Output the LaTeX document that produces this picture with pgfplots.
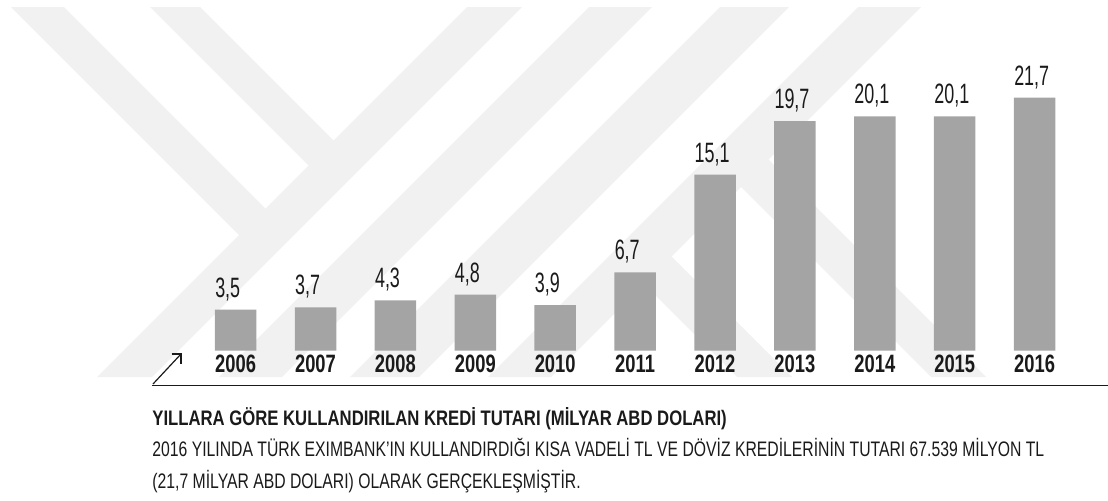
\documentclass[border=0pt]{standalone}
\usepackage{fontspec}
\usepackage{pgfplots}
\usepackage{pgfplotstable}
\pgfplotsset{compat=1.18}
\setmainfont{Liberation Sans}
\newfontfamily\valfont[FakeStretch=0.64]{Liberation Sans}
\newfontfamily\yearfont[FakeStretch=0.73]{Liberation Sans}
\newfontfamily\titlefont[FakeStretch=0.795]{Liberation Sans}
\newfontfamily\bodyfont[FakeStretch=0.75]{Liberation Sans}
\definecolor{barfill}{RGB}{164,164,164}
\definecolor{wm}{RGB}{241,241,241}
\definecolor{txt}{RGB}{26,26,26}

\pgfplotstableread{
x y lab
0 3.5 3,5
1 3.7 3,7
2 4.3 4,3
3 4.8 4,8
4 3.9 3,9
5 6.7 6,7
6 15.1 15,1
7 19.7 19,7
8 20.1 20,1
9 20.1 20,1
10 21.7 21,7
}\credit

\begin{document}
\begin{tikzpicture}
\useasboundingbox (0pt,0pt) rectangle (554pt,250pt);
\begin{scope}[x=0.5pt,y=0.5pt]
% faint background watermark
\clip (0,123) rectangle (1108,493);
\fill[wm] (11,493)--(64,493)--(271,286)--(244.5,259.5)--cycle;
\fill[wm] (150,493)--(200,493)--(339,354)--(314,329)--cycle;
\fill[wm] (467,493)--(522,493)--(152,123)--(97,123)--cycle;
\fill[wm] (589,493)--(652,493)--(282,123)--(219,123)--cycle;
\fill[wm] (720,493)--(789,493)--(419,123)--(350,123)--cycle;
\fill[wm] (858,493)--(921,493)--(551,123)--(488,123)--cycle;
\fill[wm] (739.5,369.5)--(986,123)--(931,123)--(712,342)--cycle;
\fill[wm] (642.5,272.5)--(792,123)--(737,123)--(615,245)--cycle;
\end{scope}
\begin{axis}[
  at={(75pt,74.75pt)}, anchor=south west,
  scale only axis, width=479pt, height=175.25pt,
  xmin=-1.0713, xmax=10.9186, ymin=0, ymax=30.086,
  axis line style={draw=none}, tick style={draw=none},
  ytick=\empty,
  xtick={0,...,10},
  xticklabels={2006,2007,2008,2009,2010,2011,2012,2013,2014,2015,2016},
  xticklabel style={font=\yearfont\bfseries\fontsize{12.57pt}{12.57pt}\selectfont, text=txt, anchor=base, inner sep=0pt, yshift=-6.75pt},
  clip=false,
  ybar, bar width=20.75pt,
  nodes near coords, point meta=explicit symbolic,
  every node near coord/.append style={font=\valfont\fontsize{14pt}{14pt}\selectfont, text=txt, anchor=base west, inner sep=0pt, xshift=-10.375pt, yshift=6.25pt},
]
\addplot[fill=barfill, draw=none, bar shift=0pt] table[x=x, y=y, meta=lab] {\credit};
\end{axis}
\begin{scope}[x=0.5pt,y=0.5pt]
\draw[txt, line width=0.9pt] (152,114.5) -- (1108,114.5);
\draw[txt, line width=0.6pt] (153,116) -- (181,146);
\draw[txt, line width=0.6pt] (171.5,146) -- (181,146) -- (181,136);
\node[anchor=base west, inner sep=0pt, text=txt, font=\titlefont\bfseries\fontsize{10.5pt}{10.5pt}\selectfont] at (152,75) {YILLARA GÖRE KULLANDIRILAN KREDİ TUTARI (MİLYAR ABD DOLARI)};
\node[anchor=base west, inner sep=0pt, text=txt, font=\bodyfont\fontsize{10.5pt}{10.5pt}\selectfont] at (152,43.3) {2016 YILINDA TÜRK EXIMBANK’IN KULLANDIRDIĞI KISA VADELİ TL VE DÖVİZ KREDİLERİNİN TUTARI 67.539 MİLYON TL};
\node[anchor=base west, inner sep=0pt, text=txt, font=\bodyfont\fontsize{10.5pt}{10.5pt}\selectfont] at (152,12) {(21,7 MİLYAR ABD DOLARI) OLARAK GERÇEKLEŞMİŞTİR.};
\end{scope}
\end{tikzpicture}
\end{document}
